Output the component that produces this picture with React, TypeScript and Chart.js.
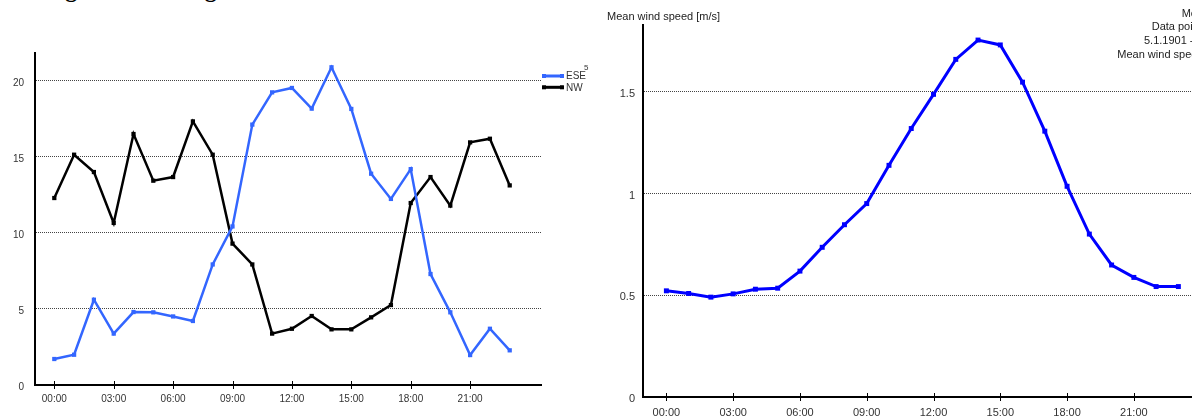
import React, { useEffect, useRef } from "react";
import { Chart, registerables } from "chart.js";

Chart.register(...registerables);

// ---------- data ----------
const hours = [0, 1, 2, 3, 4, 5, 6, 7, 8, 9, 10, 11, 12, 13, 14, 15, 16, 17, 18, 19, 20, 21, 22, 23];
const hourTicks = [0, 3, 6, 9, 12, 15, 18, 21];
const eseSpeed = [1.71, 1.99, 5.61, 3.38, 4.8, 4.78, 4.51, 4.21, 7.93, 10.43, 17.13, 19.25, 19.54, 18.18, 20.9, 18.16, 13.9, 12.24, 14.2, 7.3, 4.78, 1.97, 3.7, 2.28];
const nwSpeed = [12.3, 15.15, 14.01, 10.66, 16.51, 13.44, 13.68, 17.34, 15.15, 9.3, 7.93, 3.38, 3.7, 4.54, 3.66, 3.66, 4.45, 5.26, 11.97, 13.68, 11.8, 15.96, 16.2, 13.13];
const meanWindSpeed = [0.522, 0.509, 0.491, 0.507, 0.53, 0.535, 0.619, 0.736, 0.847, 0.951, 1.139, 1.32, 1.488, 1.66, 1.755, 1.731, 1.548, 1.307, 1.036, 0.801, 0.649, 0.588, 0.543, 0.543];
const leftYTicks = [0, 5, 10, 15, 20];
const rightYTicks = [0, 0.5, 1, 1.5];
const directionNames = ["ESE", "NW"];
const directionColors = ["#3366ff", "#000000"];
const meanSeriesName = "Mean wind speed";
const meanColor = "#0000ff";
const legendNote = "5";
const rightAxisTitle = "Mean wind speed [m/s]";
const infoLines = ["Meteostat", "Data points: 24", "5.1.1901 - 12.31.2020", "Mean wind speed: 0.95 m/s"];
const headingText = "Rating of the average wind";

const FONT = "'Liberation Sans', Arial, sans-serif";
const TEXT = "#333333";

const hourLabel = (v: number) => (v < 10 ? "0" : "") + v + ":00";

function makeX(min: number, max: number, size: number, pad: number, h: number) {
  return {
    type: "linear",
    position: "bottom",
    min,
    max,
    afterBuildTicks: (s: any) => {
      s.ticks = hourTicks.map((v) => ({ value: v }));
    },
    afterFit: (s: any) => {
      s.height = h;
    },
    ticks: {
      callback: (v: any) => hourLabel(Number(v)),
      color: TEXT,
      font: { family: FONT, size },
      padding: pad,
      maxRotation: 0,
      autoSkip: false,
    },
    grid: { display: true, drawOnChartArea: false, drawTicks: false },
    border: { display: true, color: "#000", width: 2 },
  };
}

function makeY(max: number, ticks: number[], size: number, w: number, pad: number) {
  return {
    type: "linear",
    min: 0,
    max,
    afterBuildTicks: (s: any) => {
      s.ticks = ticks.map((v) => ({ value: v }));
    },
    afterFit: (s: any) => {
      s.width = w;
    },
    ticks: {
      callback: (v: any) => String(v),
      color: TEXT,
      font: { family: FONT, size },
      padding: pad,
      labelOffset: 2,
    },
    grid: {
      drawTicks: false,
      lineWidth: 1,
      color: (c: any) => (c.tick && c.tick.value === 0 ? "rgba(0,0,0,0)" : "#444"),
    },
    border: { display: true, color: "#000", width: 2, dash: [1, 1] },
  };
}

const axisTickPlugin = {
  id: "axisTicks",
  afterDraw(chart: any) {
    const s = chart.scales.x;
    const b = chart.chartArea.bottom;
    const ctx = chart.ctx;
    ctx.save();
    ctx.strokeStyle = "#000";
    ctx.lineWidth = 1;
    ctx.beginPath();
    hourTicks.forEach((v) => {
      const x = Math.round(s.getPixelForValue(v)) + 0.5;
      ctx.moveTo(x, b - 4);
      ctx.lineTo(x, b + 4);
    });
    ctx.stroke();
    ctx.restore();
  },
};

const leftLegendPlugin = {
  id: "leftLegend",
  afterDraw(chart: any) {
    const ctx = chart.ctx;
    ctx.save();
    chart.data.datasets.forEach((ds: any, i: number) => {
      const y = 76 + i * 11.3;
      ctx.strokeStyle = ds.borderColor;
      ctx.lineWidth = 3;
      ctx.beginPath();
      ctx.moveTo(543, y);
      ctx.lineTo(563, y);
      ctx.stroke();
      ctx.fillStyle = ds.borderColor;
      ctx.fillRect(542, y - 2, 4, 4);
      ctx.fillRect(560, y - 2, 4, 4);
      ctx.fillStyle = TEXT;
      ctx.font = "10px " + FONT;
      ctx.textAlign = "left";
      ctx.textBaseline = "middle";
      ctx.fillText(ds.label, 566, y + 0.5);
    });
    ctx.font = "8px " + FONT;
    ctx.fillStyle = TEXT;
    ctx.textBaseline = "middle";
    ctx.fillText(legendNote, 584, 68);
    ctx.restore();
  },
};

const rightTextPlugin = {
  id: "rightText",
  afterDraw(chart: any) {
    const ctx = chart.ctx;
    ctx.save();
    ctx.fillStyle = "#222";
    ctx.font = "11px " + FONT;
    ctx.textAlign = "left";
    ctx.textBaseline = "middle";
    ctx.fillText(rightAxisTitle, 17, 16.5);
    const xs = [591.7, 561.7, 554, 527.3];
    const ys = [13.5, 27, 40.5, 54.5];
    infoLines.forEach((t, i) => ctx.fillText(t, xs[i], ys[i]));
    ctx.restore();
  },
};

function LeftChart() {
  const ref = useRef<HTMLCanvasElement>(null);
  useEffect(() => {
    const chart = new Chart(ref.current as HTMLCanvasElement, {
      type: "line",
      data: {
        datasets: [
          {
            label: directionNames[0],
            data: hours.map((h, i) => ({ x: h, y: eseSpeed[i] })),
            borderColor: directionColors[0],
            backgroundColor: directionColors[0],
            borderWidth: 2.5,
            pointStyle: "rect",
            pointRadius: 3,
            pointBorderWidth: 0,
            tension: 0,
          },
          {
            label: directionNames[1],
            data: hours.map((h, i) => ({ x: h, y: nwSpeed[i] })),
            borderColor: directionColors[1],
            backgroundColor: directionColors[1],
            borderWidth: 2.5,
            pointStyle: "rect",
            pointRadius: 3,
            pointBorderWidth: 0,
            tension: 0,
          },
        ],
      },
      options: {
        animation: false,
        responsive: false,
        layout: { padding: { top: 53, right: 49, left: 0, bottom: 0 } },
        plugins: { legend: { display: false }, tooltip: { enabled: false } },
        scales: {
          x: makeX(-0.975, 24.58, 10, 8, 33) as any,
          y: makeY(21.84, leftYTicks, 10, 35, 11) as any,
        },
      } as any,
      plugins: [axisTickPlugin, leftLegendPlugin],
    });
    return () => chart.destroy();
  }, []);
  return (
    <canvas
      ref={ref}
      width={590}
      height={418}
      style={{ position: "absolute", left: 0, top: 0, width: 590, height: 418 }}
    />
  );
}

function RightChart() {
  const ref = useRef<HTMLCanvasElement>(null);
  useEffect(() => {
    const chart = new Chart(ref.current as HTMLCanvasElement, {
      type: "line",
      data: {
        datasets: [
          {
            label: meanSeriesName,
            data: hours.map((h, i) => ({ x: h, y: meanWindSpeed[i] })),
            borderColor: meanColor,
            backgroundColor: meanColor,
            borderWidth: 3,
            pointStyle: "rect",
            pointRadius: 3.5,
            pointBorderWidth: 0,
            tension: 0,
          },
        ],
      },
      options: {
        animation: false,
        responsive: false,
        layout: { padding: { top: 25, right: 16, left: 0, bottom: 0 } },
        plugins: { legend: { display: false }, tooltip: { enabled: false } },
        scales: {
          x: makeX(-1.05, 24.6, 11, 9, 21) as any,
          y: makeY(1.829, rightYTicks, 11, 53, 8) as any,
        },
      } as any,
      plugins: [axisTickPlugin, rightTextPlugin],
    });
    return () => chart.destroy();
  }, []);
  return (
    <canvas
      ref={ref}
      width={640}
      height={418}
      style={{ position: "absolute", left: 590, top: 0, width: 640, height: 418 }}
    />
  );
}

export default function App() {
  return (
    <div
      style={{
        position: "fixed",
        left: 0,
        top: 0,
        width: 1192,
        height: 418,
        overflow: "hidden",
        background: "#fff",
      }}
    >
      <div
        style={{
          position: "absolute",
          left: 8,
          top: -23,
          font: "bold 24px 'Liberation Serif', serif",
          lineHeight: "24px",
          whiteSpace: "nowrap",
          color: "#000",
        }}
      >
        {headingText}
      </div>
      <LeftChart />
      <RightChart />
    </div>
  );
}
